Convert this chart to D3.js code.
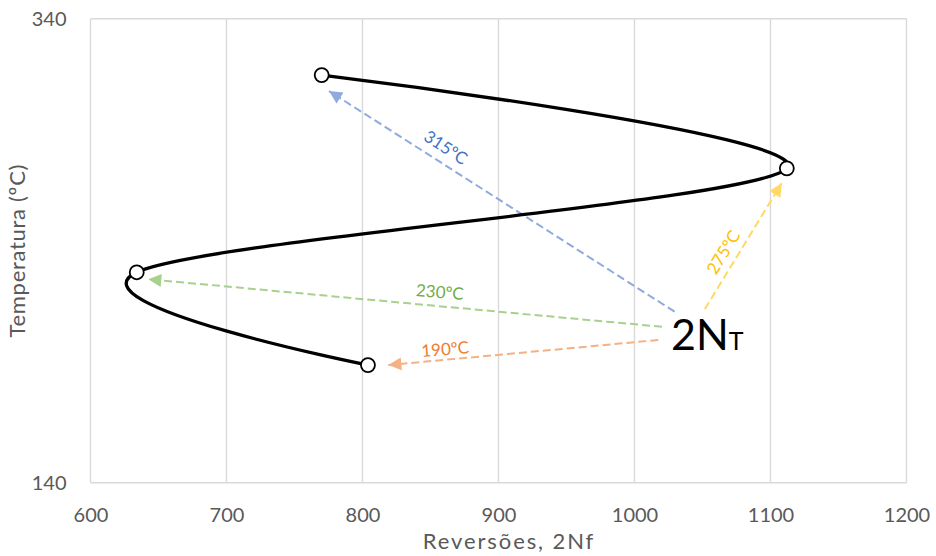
<!DOCTYPE html>
<html>
<head>
<meta charset="utf-8">
<script src="https://d3js.org/d3.v7.min.js"></script>
<style>
    body { margin: 0; background: #ffffff; }
    text { font-family: Lato, "Open Sans", sans-serif; }
    .tick text { font-size: 20px; fill: #595959; }
    .axis-title { font-size: 22px; fill: #595959; }
    .grid line { stroke: #d9d9d9; stroke-width: 1.4px; }
    .note { font-size: 17px; }
</style>
</head>
<body>
<div id="chart"></div>
<script>

    // curve points (reversals vs temperature)
    const reversals = [770, 1112, 634, 804];
    const temps = [315.7, 275.5, 230.7, 190.7];

    // axis ticks
    const xTicks = [600, 700, 800, 900, 1000, 1100, 1200];
    const yTicks = [140, 340];

    // annotation arrows: start near the 2NT label, end at each point
    const arrowLabels = ["315ºC", "275ºC", "230ºC", "190ºC"];
    const arrowColors = ["#8faadc", "#ffd966", "#a9d18e", "#f4b183"];
    const labelColors = ["#4472c4", "#ffc000", "#70ad47", "#ed7d31"];
    const arrowX1 = [1029.5, 1051.7, 1020.2, 1017.5];
    const arrowY1 = [213.7, 214.8, 207.2, 201.5];
    const arrowX2 = [775.4, 1108.2, 642.5, 819.0];
    const arrowY2 = [308.8, 269.1, 227.7, 190.7];
    // label centre (data units) and rotation
    const noteX = [861.4, 1065, 856.9, 860.7];
    const noteY = [284.7, 239.4, 222.4, 197.8];
    const noteAngle = [33, -58.5, 5, -4.5];

    const width = 936, height = 556;
    const margin = {top: 18.7, right: 29.5, bottom: 73.3, left: 90.5};

    const svg = d3.select("#chart")
        .append("svg")
        .attr("width", width)
        .attr("height", height);

    const x = d3.scaleLinear()
        .domain([600, 1200])
        .range([margin.left, width - margin.right]);

    const y = d3.scaleLinear()
        .domain([140, 340])
        .range([height - margin.bottom, margin.top]);

    // gridlines
    const grid = svg.append("g").attr("class", "grid");
    grid.selectAll("line.v")
        .data(xTicks)
        .join("line")
        .attr("class", "v")
        .attr("x1", d => x(d)).attr("x2", d => x(d))
        .attr("y1", y(340)).attr("y2", y(140));
    grid.selectAll("line.h")
        .data(yTicks)
        .join("line")
        .attr("class", "h")
        .attr("x1", x(600)).attr("x2", x(1200))
        .attr("y1", d => y(d)).attr("y2", d => y(d));

    // X axis
    svg.append("g")
        .attr("transform", `translate(0, ${y(140)})`)
        .call(d3.axisBottom(x).tickValues(xTicks).tickSize(0).tickFormat(d3.format("d")))
        .call(g => g.select(".domain").remove())
        .selectAll("text")
        .attr("dy", null)
        .attr("y", 39);

    // Y axis
    svg.append("g")
        .attr("transform", `translate(${x(600)}, 0)`)
        .call(d3.axisLeft(y).tickValues(yTicks).tickSize(0).tickPadding(24))
        .call(g => g.select(".domain").remove());

    // axis titles
    svg.append("text")
        .attr("class", "axis-title")
        .attr("x", 509)
        .attr("y", 549)
        .attr("text-anchor", "middle")
        .style("letter-spacing", "1.9px")
        .text("Reversões, 2Nf");

    svg.append("text")
        .attr("class", "axis-title")
        .attr("transform", `translate(25, ${(y(140) + y(340)) / 2}) rotate(-90)`)
        .attr("text-anchor", "middle")
        .style("letter-spacing", "0.7px")
        .text("Temperatura (ºC)");

    // arrowhead markers
    const defs = svg.append("defs");
    arrowColors.forEach((c, i) => {
        defs.append("marker")
            .attr("id", "head" + i)
            .attr("viewBox", "0 0 10 10")
            .attr("refX", 10)
            .attr("refY", 5)
            .attr("markerWidth", 7.5)
            .attr("markerHeight", 6.5)
            .attr("markerUnits", "strokeWidth")
            .attr("orient", "auto")
            .append("path")
            .attr("d", "M0,0L10,5L0,10Z")
            .attr("fill", c);
    });

    // dashed arrows
    svg.selectAll("line.arrow")
        .data(arrowLabels)
        .join("line")
        .attr("class", "arrow")
        .attr("x1", (d, i) => x(arrowX1[i]))
        .attr("y1", (d, i) => y(arrowY1[i]))
        .attr("x2", (d, i) => x(arrowX2[i]))
        .attr("y2", (d, i) => y(arrowY2[i]))
        .attr("stroke", (d, i) => arrowColors[i])
        .attr("stroke-width", 2)
        .attr("stroke-dasharray", "8,4")
        .attr("marker-end", (d, i) => `url(#head${i})`);

    // arrow labels
    svg.selectAll("text.note")
        .data(arrowLabels)
        .join("text")
        .attr("class", "note")
        .attr("text-anchor", "middle")
        .attr("dominant-baseline", "central")
        .attr("fill", (d, i) => labelColors[i])
        .attr("transform", (d, i) => `translate(${x(noteX[i])}, ${y(noteY[i])}) rotate(${noteAngle[i]})`)
        .text(d => d);

    // smoothed curve
    const pts = reversals.map((r, i) => [r, temps[i]]);
    svg.append("path")
        .datum(pts)
        .attr("fill", "none")
        .attr("stroke", "#000000")
        .attr("stroke-width", 3.3)
        .attr("d", d3.line()
            .x(d => x(d[0]))
            .y(d => y(d[1]))
            .curve(d3.curveCardinal.tension(0)));

    svg.selectAll("circle.pt")
        .data(pts)
        .join("circle")
        .attr("class", "pt")
        .attr("cx", d => x(d[0]))
        .attr("cy", d => y(d[1]))
        .attr("r", 7)
        .attr("fill", "#ffffff")
        .attr("stroke", "#000000")
        .attr("stroke-width", 1.8);

    // 2NT label
    const big = svg.append("text")
        .attr("x", 671)
        .attr("y", 350)
        .attr("fill", "#000000")
        .style("font-size", "43px");
    big.append("tspan").text("2N");
    big.append("tspan").style("font-size", "25px").text("T");

</script>
</body>
</html>
